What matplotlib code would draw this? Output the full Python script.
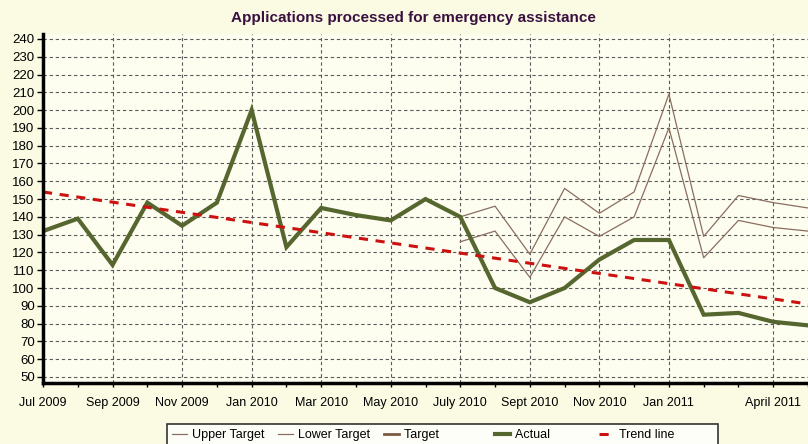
import matplotlib
matplotlib.use("Agg")
import matplotlib.pyplot as plt
from matplotlib.ticker import MultipleLocator

plt.rcParams['font.family'] = ['Liberation Sans', 'DejaVu Sans']

# Données : mois depuis Jul 2009 (0) jusqu'à May 2011 (22)
mois = list(range(23))
actual = [132, 139, 113, 148, 135, 148, 200, 123, 145, 141, 138, 150,
          140, 100, 92, 100, 116, 127, 127, 85, 86, 81, 79]

# Objectifs à partir de July 2010 (mois 12)
mois_cible = list(range(12, 23))
upper_target = [140, 146, 119, 156, 142, 154, 209, 129, 152, 148, 145]
lower_target = [126, 132, 106, 140, 129, 140, 190, 117, 138, 134, 132]
target = []

# Ligne de tendance (extrémités)
trend_x = [0, 22]
trend_y = [154, 91]

tick_pos = [0, 2, 4, 6, 8, 10, 12, 14, 16, 18, 21]
tick_labels = ["Jul 2009", "Sep 2009", "Nov 2009", "Jan 2010", "Mar 2010", "May 2010",
               "July 2010", "Sept 2010", "Nov 2010", "Jan 2011", "April 2011"]

fig = plt.figure(figsize=(8.08, 4.44), dpi=100, facecolor="#fbfbe3")
ax = fig.add_axes([43 / 808, 1 - 383 / 444, 1 - 43 / 808, (383 - 34) / 444])
ax.set_facecolor("#fdfdf0")

ax.plot(mois_cible, upper_target, color="#8a6e60", linewidth=0.9, label="Upper Target")
ax.plot(mois_cible, lower_target, color="#8a6e60", linewidth=0.9, label="Lower Target")
ax.plot(target, target, color="#7a5a40", linewidth=2, label="Target" + " " * 12)
ax.plot(mois, actual, color="#56662f", linewidth=3, label="Actual" + " " * 10, solid_joinstyle="miter")
ax.plot(trend_x, trend_y, color="#cc1111", linewidth=2.2, linestyle=(0, (3, 2.5)),
        label="Trend line" + " " * 11)

ax.set_xlim(0, 21.83)
ax.set_ylim(46.6, 242.8)
ax.yaxis.set_major_locator(MultipleLocator(10))
ax.set_yticks(range(50, 241, 10))
ax.set_xticks(tick_pos)
ax.set_xticklabels(tick_labels, fontsize=9)
ax.set_xticks(mois, minor=True)
ax.tick_params(axis="y", labelsize=9.5, length=4, width=1, pad=2)
ax.tick_params(axis="x", which="both", length=3, width=1, pad=7)

ax.grid(True, which="major", color="#5a5a5a", linestyle=(0, (3, 2.5)), linewidth=0.8)
ax.set_axisbelow(True)

for side in ["top", "right"]:
    ax.spines[side].set_visible(False)
ax.spines["left"].set_linewidth(2.5)
ax.spines["bottom"].set_linewidth(2.5)

fig.text(413 / 808, 1 - 18 / 444, "Applications processed for emergency assistance",
         ha="center", va="center", fontsize=11, fontweight="bold", color="#3a1040")

leg = fig.legend(loc="upper left", bbox_to_anchor=(167 / 808, 1 - 424 / 444), ncol=5,
                 fontsize=9, frameon=True, fancybox=False, edgecolor="black",
                 facecolor="white", handlelength=1.2, handletextpad=0.4,
                 columnspacing=1.1, borderpad=0.4, borderaxespad=0)
leg.get_frame().set_linewidth(1.2)

fig.savefig("out.png", dpi=100, facecolor=fig.get_facecolor())
